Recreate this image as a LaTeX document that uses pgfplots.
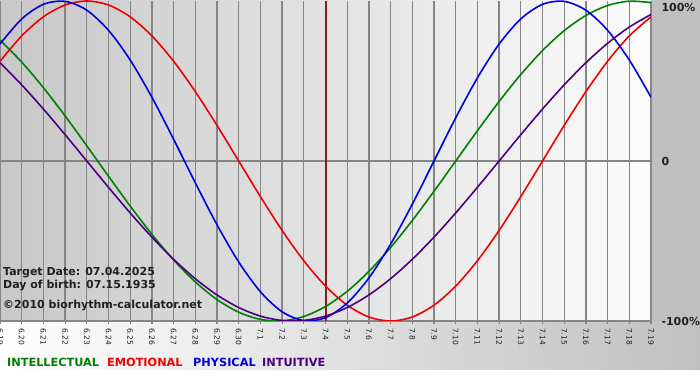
\documentclass[border=0pt]{standalone}
\usepackage{fontspec}
\setmainfont{DejaVu Sans}
\usepackage{pgfplots}
\pgfplotsset{compat=1.18}
\definecolor{gridgray}{HTML}{858585}
\definecolor{intel}{HTML}{008000}
\definecolor{emot}{HTML}{F00000}
\definecolor{phys}{HTML}{0000E0}
\definecolor{intu}{HTML}{4B0082}
\definecolor{markline}{HTML}{8B1A1A}
\definecolor{bgleft}{HTML}{C8C8C8}
\definecolor{bgright}{HTML}{FCFCFC}
\definecolor{margin}{HTML}{C0C0C0}
\definecolor{txt}{HTML}{202020}
\begin{document}
\begin{tikzpicture}
\useasboundingbox (0bp,0bp) rectangle (700bp,380bp);
\fill[white] (0bp,0bp) rectangle (700bp,380bp);
\shade[left color=white, right color=margin] (0bp,10bp) rectangle (700bp,59bp);
\fill[margin] (651bp,59bp) rectangle (700bp,380bp);
\begin{scope}[yshift=59bp]
\begin{axis}[
  at={(0bp,0bp)}, anchor=south west,
  scale only axis, width=651bp, height=320bp,
  xmin=0, xmax=30, ymin=-1, ymax=1,
  axis background/.style={left color=bgleft, right color=bgright},
  axis line style={draw=none},
  xtick={0,...,30},
  xticklabels={6.19,6.20,6.21,6.22,6.23,6.24,6.25,6.26,6.27,6.28,6.29,6.30,7.1,7.2,7.3,7.4,7.5,7.6,7.7,7.8,7.9,7.10,7.11,7.12,7.13,7.14,7.15,7.16,7.17,7.18,7.19},
  xmajorgrids, ymajorgrids,
  grid style={gridgray, line width=1.3bp},
  xtick pos=left, tick align=outside, major tick length=3bp,
  xtick style={draw=gridgray, line width=1.2bp},
  xticklabel style={rotate=-90, anchor=west, font=\fontsize{7.5bp}{8bp}\selectfont, inner xsep=4bp, inner ysep=0bp, text=txt},
  ytick={-1,0}, yticklabels={-100\%,0},
  extra y ticks={1}, extra y tick labels={100\%},
  extra y tick style={grid=none, yticklabel style={yshift=-6bp}},
  ytick pos=right, yticklabel pos=right,
  ytick style={draw=none},
  yticklabel style={anchor=west, font=\bfseries\fontsize{11bp}{13bp}\selectfont, xshift=4bp, text=txt},
  clip=true,
]
\addplot[markline, line width=2bp] coordinates {(15,-1) (15,1)};
\addplot[intel, line width=1.6bp, smooth] coordinates {
(0,0.7557)(1,0.6182)(2,0.4582)(3,0.2817)(4,0.0951)(5,-0.0951)(6,-0.2817)(7,-0.4582)(8,-0.6182)(9,-0.7557)(10,-0.8660)(11,-0.9450)(12,-0.9898)(13,-0.9989)(14,-0.9718)(15,-0.9096)(16,-0.8146)(17,-0.6901)(18,-0.5406)(19,-0.3717)(20,-0.1893)(21,0)(22,0.1893)(23,0.3717)(24,0.5406)(25,0.6901)(26,0.8146)(27,0.9096)(28,0.9718)(29,0.9989)(30,0.9898)};
\addplot[emot, line width=1.6bp, smooth] coordinates {
(0,0.6235)(1,0.7818)(2,0.9010)(3,0.9749)(4,1)(5,0.9749)(6,0.9010)(7,0.7818)(8,0.6235)(9,0.4339)(10,0.2225)(11,0)(12,-0.2225)(13,-0.4339)(14,-0.6235)(15,-0.7818)(16,-0.9010)(17,-0.9749)(18,-1)(19,-0.9749)(20,-0.9010)(21,-0.7818)(22,-0.6235)(23,-0.4339)(24,-0.2225)(25,0)(26,0.2225)(27,0.4339)(28,0.6235)(29,0.7818)(30,0.9010)};
\addplot[phys, line width=1.6bp, smooth] coordinates {
(0,0.7308)(1,0.8879)(2,0.9791)(3,0.9977)(4,0.9423)(5,0.8170)(6,0.6311)(7,0.3984)(8,0.1362)(9,-0.1362)(10,-0.3984)(11,-0.6311)(12,-0.8170)(13,-0.9423)(14,-0.9977)(15,-0.9791)(16,-0.8879)(17,-0.7308)(18,-0.5196)(19,-0.2698)(20,0)(21,0.2698)(22,0.5196)(23,0.7308)(24,0.8879)(25,0.9791)(26,0.9977)(27,0.9423)(28,0.8170)(29,0.6311)(30,0.3984)};
\addplot[intu, line width=1.6bp, smooth] coordinates {
(0,0.6142)(1,0.4759)(2,0.3247)(3,0.1646)(4,0)(5,-0.1646)(6,-0.3247)(7,-0.4759)(8,-0.6142)(9,-0.7357)(10,-0.8372)(11,-0.9158)(12,-0.9694)(13,-0.9966)(14,-0.9966)(15,-0.9694)(16,-0.9158)(17,-0.8372)(18,-0.7357)(19,-0.6142)(20,-0.4759)(21,-0.3247)(22,-0.1646)(23,0)(24,0.1646)(25,0.3247)(26,0.4759)(27,0.6142)(28,0.7357)(29,0.8372)(30,0.9158)};
\end{axis}
\end{scope}
\begin{scope}[every node/.style={anchor=base west, inner sep=0pt, font=\bfseries\fontsize{11bp}{13bp}\selectfont}]
\node[text=txt] at (3bp,104bp) {Target Date: 07.04.2025};
\node[text=txt] at (3bp,91bp) {Day of birth: 07.15.1935};
\node[text=txt] at (3bp,71bp) {©2010 biorhythm-calculator.net};
\end{scope}
\begin{scope}[every node/.style={anchor=base west, inner sep=0pt, font=\bfseries\fontsize{11.3bp}{13bp}\selectfont}]
\node[text=intel] at (7bp,14bp) {INTELLECTUAL};
\node[text=emot] at (107bp,14bp) {EMOTIONAL};
\node[text=phys] at (193bp,14bp) {PHYSICAL};
\node[text=intu] at (262bp,14bp) {INTUITIVE};
\end{scope}
\end{tikzpicture}
\end{document}
